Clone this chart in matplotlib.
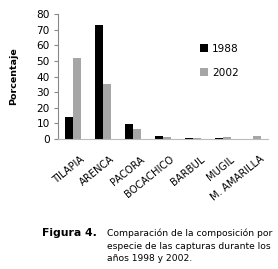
import matplotlib

matplotlib.use("Agg")
import matplotlib.pyplot as plt
import matplotlib.transforms as mtransforms
import numpy as np

species = ["TILAPIA", "ARENCA", "PACORA", "BOCACHICO", "BARBUL", "MUGIL", "M. AMARILLA"]
pct_1988 = [14, 73, 9.5, 2, 0.8, 0.6, 0]
pct_2002 = [52, 35, 6.5, 1.5, 0.6, 1.5, 2]
yticks = [0, 10, 20, 30, 40, 50, 60, 70, 80]

plt.rcParams["font.family"] = ["DejaVu Sans"]

fig = plt.figure(figsize=(2.78, 2.69), dpi=100)
ax = fig.add_axes([0.209, 0.483, 0.755, 0.465])

x = np.arange(len(species))
w = 0.28
ax.bar(x - w / 2, pct_1988, w, color="black", label="1988")
ax.bar(x + w / 2, pct_2002, w, color="#a6a6a6", label="2002")

ax.set_xlim(-0.5, len(species) - 0.5)
ax.set_ylim(0, 80)
ax.set_yticks(yticks)
ax.tick_params(axis="y", labelsize=7.6, length=3, color="#888888", pad=3)
ax.set_xticks(x)
ax.set_xticklabels(species, rotation=39, ha="right", rotation_mode="anchor", fontsize=7.2)
ax.tick_params(axis="x", length=0, pad=0)
shift = mtransforms.ScaledTranslation(7 / 100, -15 / 100, fig.dpi_scale_trans)
for lab in ax.get_xticklabels():
    lab.set_transform(lab.get_transform() + shift)
ax.spines[["top", "right"]].set_visible(False)
ax.spines["left"].set_color("#888888")
ax.spines["bottom"].set_color("#bbbbbb")
ax.set_ylabel("Porcentaje", fontsize=6.8, fontweight="bold")
ax.yaxis.set_label_coords(-0.19, 0.5)

ax.legend(loc="upper left", bbox_to_anchor=(0.63, 0.84), frameon=False, fontsize=7.6,
          handlelength=0.75, handleheight=0.75, labelspacing=1.35, handletextpad=0.4)

fig.text(0.151, 0.123, "Figura 4.", fontsize=7.8, fontweight="bold", va="baseline")
fig.text(0.385, 0.123, "Comparación de la composición por", fontsize=6.6, va="baseline")
fig.text(0.385, 0.075, "especie de las capturas durante los", fontsize=6.6, va="baseline")
fig.text(0.385, 0.029, "años 1998 y 2002.", fontsize=6.6, va="baseline")

fig.savefig("out.png", dpi=100)
